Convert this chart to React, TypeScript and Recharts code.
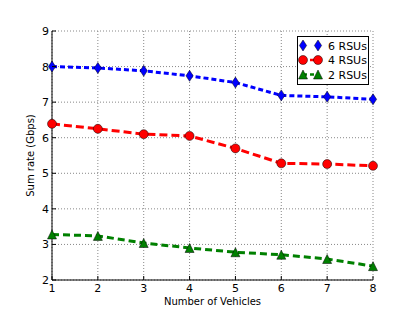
import { CartesianGrid, Legend, Line, LineChart, XAxis, YAxis } from 'recharts'

const vehicles = [1, 2, 3, 4, 5, 6, 7, 8]
const rsu6 = [8.0, 7.96, 7.88, 7.74, 7.55, 7.19, 7.15, 7.08]
const rsu4 = [6.39, 6.25, 6.1, 6.05, 5.7, 5.28, 5.26, 5.21]
const rsu2 = [3.28, 3.24, 3.04, 2.9, 2.78, 2.71, 2.59, 2.39]
const xTicks = [1, 2, 3, 4, 5, 6, 7, 8]
const yTicks = [2, 3, 4, 5, 6, 7, 8, 9]

const data = vehicles.map((v, i) => ({ v, rsu6: rsu6[i], rsu4: rsu4[i], rsu2: rsu2[i] }))

const font = '"DejaVu Sans", sans-serif'

function Diamond({ cx, cy, fill }: { cx: number; cy: number; fill: string }) {
  return (
    <path
      d={`M${cx},${cy - 5.5} L${cx + 3.6},${cy} L${cx},${cy + 5.5} L${cx - 3.6},${cy} Z`}
      fill={fill}
      stroke="#000"
      strokeWidth={0.5}
    />
  )
}

function Circle({ cx, cy, fill }: { cx: number; cy: number; fill: string }) {
  return <circle cx={cx} cy={cy} r={4.5} fill={fill} stroke="#000" strokeWidth={0.5} />
}

function Triangle({ cx, cy, fill }: { cx: number; cy: number; fill: string }) {
  return (
    <path
      d={`M${cx},${cy - 4.5} L${cx + 4.5},${cy + 4.5} L${cx - 4.5},${cy + 4.5} Z`}
      fill={fill}
      stroke="#000"
      strokeWidth={0.5}
    />
  )
}

// legend: blue entry shows no visible segment between its markers
const series = [
  { key: 'rsu6', name: '6 RSUs', color: '#0000ff', dash: '5 3', legendLine: false, Marker: Diamond },
  { key: 'rsu4', name: '4 RSUs', color: '#ff0000', dash: '8 4', legendLine: true, Marker: Circle },
  { key: 'rsu2', name: '2 RSUs', color: '#008000', dash: '7 4', legendLine: true, Marker: Triangle },
]

function BottomTick({ x, y, payload }: any) {
  return (
    <g>
      <line x1={x} y1={y} x2={x} y2={y - 4} stroke="#000" />
      <text x={x} y={y + 12} textAnchor="middle" fontSize={11} fontFamily={font} fill="#000">
        {payload.value}
      </text>
    </g>
  )
}

function TopTick({ x, y }: any) {
  return <line x1={x} y1={y} x2={x} y2={y + 4} stroke="#000" />
}

function LeftTick({ x, y, payload }: any) {
  return (
    <g>
      <line x1={x} y1={y} x2={x + 4} y2={y} stroke="#000" />
      <text x={x - 3} y={y + 4} textAnchor="end" fontSize={11} fontFamily={font} fill="#000">
        {payload.value}
      </text>
    </g>
  )
}

function RightTick({ x, y }: any) {
  return <line x1={x} y1={y} x2={x - 4} y2={y} stroke="#000" />
}

function LegendBox() {
  return (
    <svg width={72} height={49} style={{ display: 'block' }}>
      <rect x={0.5} y={0.5} width={71} height={48} fill="#fff" stroke="#000" />
      {series.map((s, i) => {
        const y = 9.5 + i * 14.5
        const M = s.Marker
        return (
          <g key={s.key}>
            {s.legendLine && (
              <line x1={6} y1={y} x2={21} y2={y} stroke={s.color} strokeWidth={2.5} strokeDasharray="4 3" />
            )}
            <M cx={6} cy={y} fill={s.color} />
            <M cx={21} cy={y} fill={s.color} />
            <text x={31} y={y + 4} fontSize={11} fontFamily={font} fill="#000">
              {s.name}
            </text>
          </g>
        )
      })}
    </svg>
  )
}

export default function App() {
  return (
    <div style={{ position: 'absolute', left: 0, top: 0, width: 415, height: 312, background: '#fff' }}>
      <LineChart width={415} height={312} data={data} margin={{ top: 31, right: 42, left: 22, bottom: 2 }}>
        <CartesianGrid stroke="#888" strokeDasharray="1 2" />
        <XAxis
          dataKey="v"
          type="number"
          domain={[1, 8]}
          ticks={xTicks}
          axisLine={{ stroke: '#000' }}
          tickLine={false}
          tickSize={0}
          tickMargin={0}
          tick={<BottomTick />}
          height={30}
          interval={0}
          label={{ value: 'Number of Vehicles', position: 'insideBottom', offset: 5, fontSize: 10, fontFamily: font, fill: '#000' }}
        />
        <XAxis
          xAxisId="top"
          dataKey="v"
          type="number"
          orientation="top"
          domain={[1, 8]}
          ticks={xTicks}
          axisLine={{ stroke: '#000' }}
          tickLine={false}
          tickSize={0}
          tickMargin={0}
          tick={<TopTick />}
          height={0}
          interval={0}
        />
        <YAxis
          type="number"
          domain={[2, 9]}
          ticks={yTicks}
          axisLine={{ stroke: '#000' }}
          tickLine={false}
          tickSize={0}
          tickMargin={0}
          tick={<LeftTick />}
          width={30}
          interval={0}
          label={{ value: 'Sum rate (Gbps)', angle: -90, position: 'insideLeft', offset: 8, fontSize: 10, fontFamily: font, fill: '#000', style: { textAnchor: 'middle' } }}
        />
        <YAxis
          yAxisId="right"
          type="number"
          orientation="right"
          domain={[2, 9]}
          ticks={yTicks}
          axisLine={{ stroke: '#000' }}
          tickLine={false}
          tickSize={0}
          tickMargin={0}
          tick={<RightTick />}
          width={0}
          interval={0}
        />
        {series.map((s) => (
          <Line
            key={s.key}
            dataKey={s.key}
            name={s.name}
            stroke={s.color}
            strokeWidth={3}
            strokeDasharray={s.dash}
            isAnimationActive={false}
            dot={(p: any) => <s.Marker key={`${s.key}-${p.index}`} cx={p.cx} cy={p.cy} fill={s.color} />}
          />
        ))}
        <Legend
          layout="horizontal"
          verticalAlign="middle"
          align="center"
          content={() => <LegendBox />}
          wrapperStyle={{ left: 297, top: 36, width: 72, height: 49 }}
        />
      </LineChart>
    </div>
  )
}
